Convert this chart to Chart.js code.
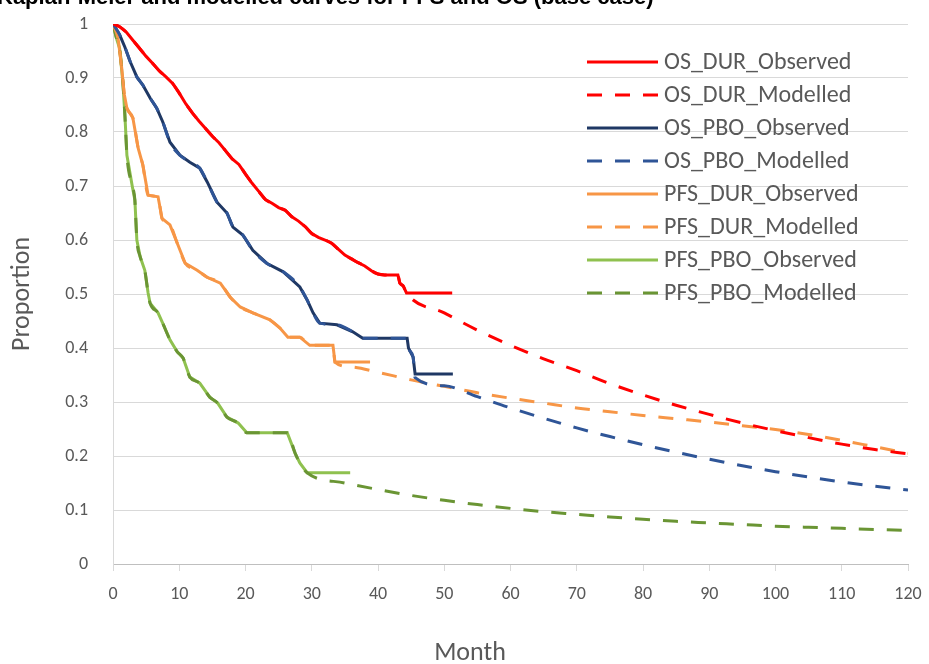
<!DOCTYPE html>
<html>
<head>
<meta charset="utf-8">
<script src="https://cdn.jsdelivr.net/npm/chart.js@4.4.1/dist/chart.umd.min.js"></script>
<style>
  html, body { margin: 0; padding: 0; background: #fff; }
  #wrap { width: 929px; height: 664px; }
</style>
</head>
<body>
<div id="wrap"><canvas id="survChart" width="929" height="664"></canvas></div>
<script>
const chartTitle = 'Kaplan-Meier and modelled curves for PFS and OS (base case)';
const xTitle = 'Month';
const yTitle = 'Proportion';

// observed (KM) curves, month / proportion
const osDurObsMonth = [0, 1, 2, 3, 4, 5, 6, 7, 8, 9, 10, 11, 12, 13, 14, 15, 16, 17, 18, 19, 20, 21, 22, 23, 24, 25, 26, 27, 28, 29, 30, 31, 32, 33, 34, 35, 36, 37, 38, 39, 40, 41, 43, 43.3, 43.8, 44.3, 51.2];
const osDurObsProp = [1, 0.995, 0.985, 0.97, 0.955, 0.94, 0.927, 0.913, 0.902, 0.89, 0.872, 0.852, 0.835, 0.82, 0.806, 0.792, 0.78, 0.765, 0.75, 0.74, 0.722, 0.705, 0.69, 0.675, 0.668, 0.66, 0.655, 0.643, 0.635, 0.625, 0.612, 0.605, 0.6, 0.594, 0.583, 0.572, 0.565, 0.558, 0.552, 0.543, 0.537, 0.535, 0.535, 0.52, 0.515, 0.502, 0.502];

const osPboObsMonth = [0, 1, 1.8, 2.6, 3.6, 4.5, 5.6, 6.6, 7.5, 8.6, 10.1, 11.6, 13.1, 14.2, 15.7, 17.2, 18.1, 19.6, 21.1, 23.2, 25.7, 28.2, 29.3, 30.2, 31.2, 33.8, 36.2, 37.7, 44.4, 44.6, 45.3, 45.6, 51.3];
const osPboObsProp = [1, 0.98, 0.957, 0.93, 0.902, 0.887, 0.863, 0.844, 0.819, 0.781, 0.757, 0.744, 0.733, 0.708, 0.67, 0.65, 0.624, 0.609, 0.581, 0.557, 0.541, 0.513, 0.489, 0.465, 0.446, 0.443, 0.43, 0.418, 0.418, 0.4, 0.383, 0.352, 0.352];

const pfsDurObsMonth = [0, 0.8, 1.3, 1.7, 2.1, 3, 3.8, 4.5, 5.3, 6.8, 7.4, 8.6, 9.7, 10.9, 12.7, 14.2, 16.2, 17.7, 19.2, 21.1, 23.7, 25.2, 26.4, 28.2, 29.7, 33.2, 33.5, 38.8];
const pfsDurObsProp = [1, 0.97, 0.92, 0.87, 0.844, 0.826, 0.77, 0.739, 0.683, 0.68, 0.64, 0.628, 0.594, 0.557, 0.544, 0.531, 0.52, 0.494, 0.476, 0.465, 0.452, 0.437, 0.42, 0.42, 0.405, 0.405, 0.374, 0.374];

const pfsPboObsMonth = [0, 0.6, 1, 1.5, 1.8, 2.1, 2.9, 3.3, 3.6, 4.1, 4.8, 5.3, 5.6, 6.8, 7.5, 8.6, 9.7, 10.6, 11.6, 13.1, 14.6, 15.8, 17.2, 18.9, 20.2, 26.3, 27.5, 28.2, 29.3, 35.8];
const pfsPboObsProp = [1, 0.97, 0.955, 0.89, 0.83, 0.757, 0.7, 0.674, 0.6, 0.569, 0.544, 0.502, 0.483, 0.465, 0.446, 0.415, 0.393, 0.381, 0.346, 0.335, 0.309, 0.298, 0.272, 0.261, 0.243, 0.243, 0.205, 0.187, 0.169, 0.169];

// modelled extrapolations, starting where they leave the KM curve
const osDurModMonth = [44.3, 50, 55, 60, 65, 70, 75, 80, 85, 90, 95, 100, 105, 110, 115, 120];
const osDurModProp = [0.502, 0.465, 0.433, 0.405, 0.38, 0.358, 0.334, 0.313, 0.294, 0.277, 0.261, 0.247, 0.234, 0.222, 0.212, 0.204];

const osPboModMonth = [45.6, 50, 55, 60, 65, 70, 75, 80, 85, 90, 95, 100, 105, 110, 115, 120];
const osPboModProp = [0.345, 0.33, 0.31, 0.289, 0.27, 0.252, 0.236, 0.221, 0.207, 0.194, 0.182, 0.171, 0.161, 0.152, 0.144, 0.137];

const pfsDurModMonth = [33.5, 36, 40, 45, 50, 55, 60, 65, 70, 75, 80, 85, 90, 95, 100, 105, 110, 115, 120];
const pfsDurModProp = [0.374, 0.365, 0.355, 0.341, 0.329, 0.317, 0.307, 0.298, 0.289, 0.282, 0.275, 0.269, 0.263, 0.256, 0.249, 0.24, 0.229, 0.217, 0.205];

const pfsPboModMonth = [29.3, 35, 40, 45, 50, 55, 60, 65, 70, 75, 80, 85, 90, 95, 100, 105, 110, 115, 120];
const pfsPboModProp = [0.169, 0.15, 0.138, 0.127, 0.118, 0.11, 0.103, 0.097, 0.092, 0.087, 0.083, 0.079, 0.076, 0.073, 0.07, 0.068, 0.066, 0.064, 0.062];

const fontFamily = "Carlito, 'Open Sans', sans-serif";
const textGrey = '#595959';
const gridGrey = '#d9d9d9';

function toPoints(months, props) {
    return months.map((m, i) => ({ x: m, y: props[i] }));
}

// modelled curve = KM up to the split point, then the fitted tail
function modelled(obsMonth, obsProp, modMonth, modProp) {
    const head = toPoints(obsMonth, obsProp).filter(p => p.x < modMonth[0]);
    return head.concat(toPoints(modMonth, modProp));
}

function solid(label, data, color) {
    return { label: label, data: data, borderColor: color, backgroundColor: color, borderWidth: 3, order: 1, tension: 0 };
}

function dashed(label, data, color) {
    return { label: label, data: data, borderColor: color, backgroundColor: color, borderWidth: 3, borderDash: [15, 13], order: 0, cubicInterpolationMode: 'monotone' };
}

// legend drawn inside the plot (top right), the x axis title and the cut-off heading
const insideLegend = {
    id: 'insideLegend',
    afterDraw(chart) {
        const ctx = chart.ctx;
        ctx.save();
        ctx.font = "bold 22px 'Liberation Sans', Arial, sans-serif";
        ctx.fillStyle = '#000';
        ctx.textBaseline = 'alphabetic';
        ctx.textAlign = 'left';
        ctx.fillText(chartTitle, -3, 4);

        ctx.font = '26px ' + fontFamily;
        ctx.fillStyle = textGrey;
        ctx.textAlign = 'center';
        ctx.textBaseline = 'middle';
        ctx.fillText(xTitle, 470, 653);

        ctx.font = '24px ' + fontFamily;
        ctx.textAlign = 'left';
        chart.data.datasets.forEach((ds, i) => {
            const y = 62 + i * 33;
            ctx.strokeStyle = ds.borderColor;
            ctx.lineWidth = ds.borderWidth;
            ctx.setLineDash(ds.borderDash || []);
            ctx.beginPath();
            ctx.moveTo(587, y);
            ctx.lineTo(658, y);
            ctx.stroke();
            ctx.setLineDash([]);
            ctx.fillStyle = textGrey;
            ctx.fillText(ds.label, 664, y + 1);
        });
        ctx.restore();
    }
};

const ctx = document.getElementById('survChart').getContext('2d');
new Chart(ctx, {
    type: 'line',
    data: {
        datasets: [
            solid('OS_DUR_Observed', toPoints(osDurObsMonth, osDurObsProp), '#ff0000'),
            dashed('OS_DUR_Modelled', modelled(osDurObsMonth, osDurObsProp, osDurModMonth, osDurModProp), '#ff0000'),
            solid('OS_PBO_Observed', toPoints(osPboObsMonth, osPboObsProp), '#1f3864'),
            dashed('OS_PBO_Modelled', modelled(osPboObsMonth, osPboObsProp, osPboModMonth, osPboModProp), '#2f5597'),
            solid('PFS_DUR_Observed', toPoints(pfsDurObsMonth, pfsDurObsProp), '#f79646'),
            dashed('PFS_DUR_Modelled', modelled(pfsDurObsMonth, pfsDurObsProp, pfsDurModMonth, pfsDurModProp), '#f79646'),
            solid('PFS_PBO_Observed', toPoints(pfsPboObsMonth, pfsPboObsProp), '#8fc14f'),
            dashed('PFS_PBO_Modelled', modelled(pfsPboObsMonth, pfsPboObsProp, pfsPboModMonth, pfsPboModProp), '#6a9534')
        ]
    },
    options: {
        responsive: false,
        animation: false,
        layout: { padding: { top: 24, right: 21, left: 0, bottom: 0 } },
        elements: { point: { radius: 0 } },
        plugins: {
            legend: { display: false },
            tooltip: { enabled: false }
        },
        scales: {
            x: {
                type: 'linear',
                min: 0,
                max: 120,
                // big lineHeight pushes labels down without widening the side padding
                ticks: { stepSize: 10, color: textGrey, font: { family: fontFamily, size: 18, lineHeight: 2.4 }, padding: 2, maxRotation: 0 },
                grid: { drawOnChartArea: false, drawTicks: true, tickLength: 7, color: gridGrey },
                border: { color: '#bfbfbf' },
                afterFit: (s) => { s.height = 100; }
            },
            y: {
                min: 0,
                max: 1,
                ticks: {
                    stepSize: 0.1, color: textGrey, font: { family: fontFamily, size: 18 }, padding: 4,
                    callback: (v) => String(Math.round(v * 10) / 10)
                },
                grid: { color: gridGrey, drawTicks: true, tickLength: 21, tickColor: 'rgba(0,0,0,0)' },
                border: { color: gridGrey },
                title: { display: true, text: yTitle, color: textGrey, font: { family: fontFamily, size: 26, lineHeight: 1 }, padding: { top: 9, bottom: 0 } },
                afterFit: (s) => { s.width = 113; }
            }
        }
    },
    plugins: [insideLegend]
});
</script>
</body>
</html>
